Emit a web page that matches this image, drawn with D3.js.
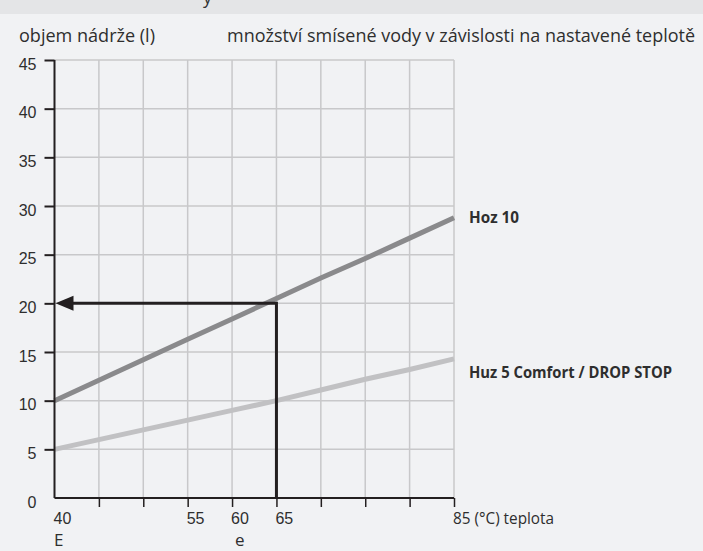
<!DOCTYPE html>
<html><head><meta charset="utf-8">
<script src="https://cdn.jsdelivr.net/npm/d3@7"></script>
<style>
html,body{margin:0;padding:0;background:#f1f2f4;}
svg{display:block;}
</style></head>
<body>
<script>
// ---- data ----
const temps = [40, 45, 50, 55, 60, 65, 70, 75, 80, 85];
const hoz10 = [10, 12.1, 14.2, 16.3, 18.4, 20.5, 22.6, 24.6, 26.7, 28.8];
const huz5  = [5, 6, 7, 8, 9, 10, 11.1, 12.2, 13.2, 14.3];
const seriesNames = ["Hoz 10", "Huz 5 Comfort / DROP STOP"];
const yTickValues = [0, 5, 10, 15, 20, 25, 30, 35, 40, 45];
const xTickValues = [45, 50, 55, 60, 65, 70, 75, 80, 85];
const xLabelValues = [40, 55, 60, 65, 85];
const xLabelTexts = ["40", "55", "60", "65", "85 (°C) teplota"];
const subLabelValues = [40, 60];
const subLabelTexts = ["E", "e"];
const readTemp = 65;      // example reading
const readVolume = 20;
const yTitle = "objem nádrže (l)";
const chartTitle = "množství smísené vody v závislosti na nastavené teplotě";

// ---- layout ----
const W = 703, H = 551;
const svg = d3.select("body").append("svg").attr("width", W).attr("height", H);
svg.append("rect").attr("width", W).attr("height", H).attr("fill", "#f1f2f4");
svg.append("rect").attr("width", W).attr("height", 14).attr("fill", "#e4e5e7");
svg.append("text").attr("x", 203).attr("y", 4).attr("font-family", "Open Sans")
  .attr("font-size", 18).attr("fill", "#333").text("y");

const x = d3.scaleLinear().domain([40, 85]).range([54.5, 454]);
const y = d3.scaleLinear().domain([0, 45]).range([498, 60]);

const txtFont = "'Open Sans', sans-serif";
const numFont = "'Liberation Sans', Arial, sans-serif";
const textCol = "#2e2e2e";

// header texts
svg.append("text").attr("x", 19).attr("y", 42).attr("font-family", txtFont)
  .attr("font-size", 19).attr("fill", textCol)
  .attr("textLength", 136).attr("lengthAdjust", "spacingAndGlyphs").text(yTitle);
svg.append("text").attr("x", 227).attr("y", 42).attr("font-family", txtFont)
  .attr("font-size", 17.5).attr("fill", textCol)
  .attr("textLength", 468).attr("lengthAdjust", "spacingAndGlyphs").text(chartTitle);

// grid
const grid = svg.append("g");
grid.selectAll("line.v").data(xTickValues).join("line")
  .attr("x1", d => x(d)).attr("x2", d => x(d))
  .attr("y1", y(0)).attr("y2", y(45))
  .attr("stroke", "#c8c8ca").attr("stroke-width", 1.5);
grid.selectAll("line.h").data(yTickValues.filter(d => d > 0)).join("line")
  .attr("x1", x(40)).attr("x2", x(85))
  .attr("y1", d => y(d)).attr("y2", d => y(d))
  .attr("stroke", "#c8c8ca").attr("stroke-width", 1.5);

// series lines
const line = d3.line().x((d, i) => x(temps[i])).y(d => y(d));
svg.append("path").datum(huz5).attr("d", line).attr("fill", "none")
  .attr("stroke", "#c1c1c3").attr("stroke-width", 5);
svg.append("path").datum(hoz10).attr("d", line).attr("fill", "none")
  .attr("stroke", "#8a8a8c").attr("stroke-width", 5);

// axes
const yAxis = svg.append("g").attr("transform", `translate(${x(40)},0)`)
  .call(d3.axisLeft(y).tickValues(yTickValues).tickSize(10).tickPadding(8));
yAxis.select(".domain").attr("stroke", "#231f20").attr("stroke-width", 2)
  .attr("d", `M0,${y(0)}V${y(45)}`);
yAxis.selectAll(".tick line").attr("stroke", "#231f20").attr("stroke-width", 2)
  .filter(d => d === 0).remove();
yAxis.selectAll(".tick text").attr("font-family", numFont).attr("font-size", 16)
  .attr("fill", textCol).attr("dy", "0.58em");

const xAxis = svg.append("g").attr("transform", `translate(0,${y(0)})`)
  .call(d3.axisBottom(x).tickValues(xTickValues).tickSize(9).tickFormat(""));
xAxis.select(".domain").attr("stroke", "#231f20").attr("stroke-width", 2)
  .attr("d", `M${x(40)},0H${x(85)}`);
xAxis.selectAll(".tick line").attr("stroke", "#231f20").attr("stroke-width", 1.5);

// x labels
svg.append("g").selectAll("text").data(xLabelValues).join("text")
  .attr("x", d => x(d) - 1).attr("y", 524)
  .attr("font-family", (d, i) => i === xLabelValues.length - 1 ? txtFont : numFont)
  .attr("font-size", 16).attr("fill", textCol)
  .each(function (d, i) {
    if (i === xLabelValues.length - 1) d3.select(this).attr("font-size", 17).attr("textLength", 101).attr("lengthAdjust", "spacingAndGlyphs");
  })
  .text((d, i) => xLabelTexts[i]);
svg.append("g").selectAll("text").data(subLabelValues).join("text")
  .attr("x", (d, i) => x(d) + (i === 0 ? -0.5 : 3)).attr("y", 546)
  .attr("font-family", txtFont).attr("font-size", 17).attr("fill", textCol)
  .text((d, i) => subLabelTexts[i]);

// reading arrow
svg.append("path")
  .attr("d", `M${x(readTemp)},${y(0)}V${y(readVolume)}H${x(40) + 16}`)
  .attr("fill", "none").attr("stroke", "#231f20").attr("stroke-width", 3);
svg.append("path")
  .attr("d", `M${x(40) + 1},${y(readVolume)}L${x(40) + 19},${y(readVolume) - 7.5}L${x(40) + 19},${y(readVolume) + 7.5}Z`)
  .attr("fill", "#231f20");

// series labels
svg.append("text").attr("x", 469).attr("y", 223).attr("font-family", txtFont)
  .attr("font-size", 16.5).attr("font-weight", "bold").attr("fill", textCol)
  .attr("textLength", 50).attr("lengthAdjust", "spacingAndGlyphs").text(seriesNames[0]);
svg.append("text").attr("x", 469).attr("y", 378).attr("font-family", txtFont)
  .attr("font-size", 16.5).attr("font-weight", "bold").attr("fill", textCol)
  .attr("textLength", 203).attr("lengthAdjust", "spacingAndGlyphs").text(seriesNames[1]);
</script>
</body></html>
